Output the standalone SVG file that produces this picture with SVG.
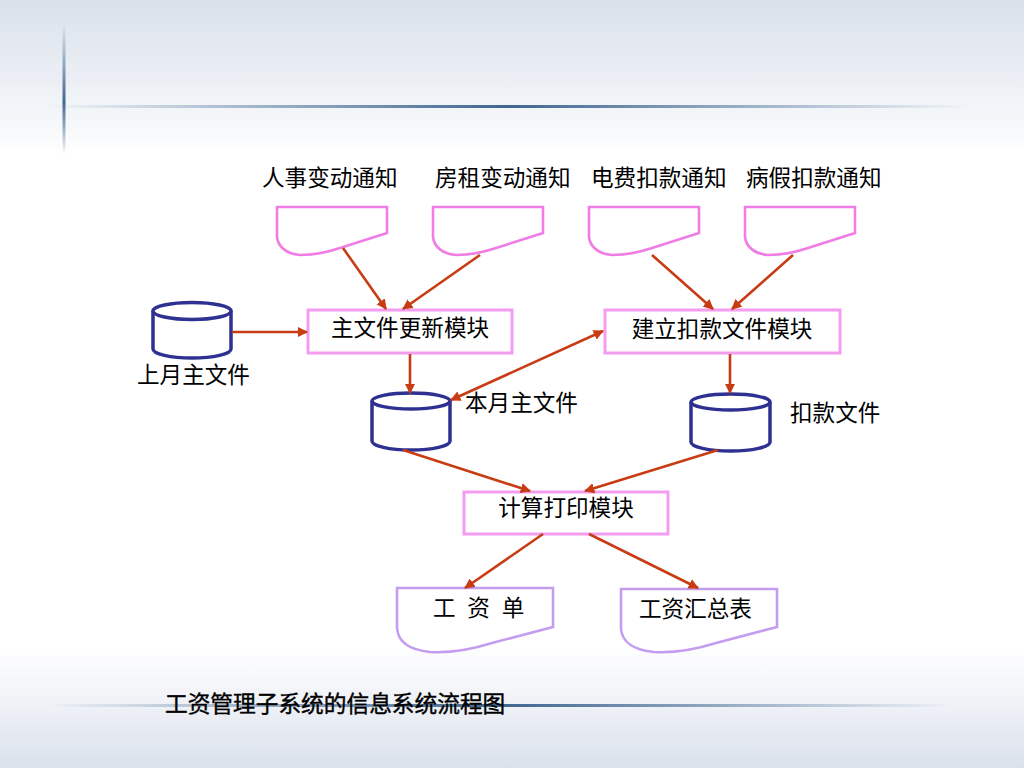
<svg xmlns="http://www.w3.org/2000/svg" width="1024" height="768" viewBox="0 0 1024 768">
<defs>
<linearGradient id="bg" x1="0" y1="0" x2="0" y2="1">
<stop offset="0" stop-color="#DAE1EC"/>
<stop offset="0.17" stop-color="#F7F9FB"/>
<stop offset="0.2" stop-color="#FFFFFF"/>
<stop offset="0.84" stop-color="#FFFFFF"/>
<stop offset="0.9" stop-color="#F3F5F9"/>
<stop offset="1" stop-color="#DAE1EC"/>
</linearGradient>
<linearGradient id="hl" x1="0" y1="0" x2="1" y2="0">
<stop offset="0" stop-color="#3F6690" stop-opacity="0"/>
<stop offset="0.5" stop-color="#3F6690" stop-opacity="1"/>
<stop offset="1" stop-color="#3F6690" stop-opacity="0"/>
</linearGradient>
<linearGradient id="vl" x1="0" y1="0" x2="0" y2="1">
<stop offset="0" stop-color="#3F6690" stop-opacity="0"/>
<stop offset="0.6" stop-color="#3F6690" stop-opacity="1"/>
<stop offset="1" stop-color="#3F6690" stop-opacity="0"/>
</linearGradient>
<marker id="ah" viewBox="0 0 10 10" refX="9" refY="5" markerWidth="4" markerHeight="4" orient="auto-start-reverse" markerUnits="strokeWidth">
<path d="M0,0 L10,5 L0,10 Z" fill="#C83C14"/>
</marker>
<style>
.t{font-family:"Liberation Sans","Noto Sans CJK SC",sans-serif;font-size:22.6px;fill:#000}
.box{fill:#fff;stroke:#F49CF0;stroke-width:3}
.doc{fill:#fff;stroke:#F07DE6;stroke-width:2.6}
.out{fill:#fff;stroke:#C49CF0;stroke-width:2.6}
.db{fill:#fff;stroke:#2E3192;stroke-width:3.5}
.ar{stroke:#C83C14;stroke-width:2.6;fill:none;marker-end:url(#ah)}
</style>
</defs>
<rect x="0" y="0" width="1024" height="768" fill="url(#bg)"/>
<rect x="48" y="105" width="920" height="3" fill="url(#hl)"/>
<rect x="62.5" y="24" width="3" height="130" fill="url(#vl)"/>
<rect x="50" y="704" width="900" height="3" fill="url(#hl)"/>

<g id="n-renshi">
<text class="t" x="262" y="186">人事变动通知</text>
<path class="doc" d="M277,207 H387 V233 L340,248 C325,253 312,255 300,255 C287,254 278,247 277,237 Z"/>
</g>
<g id="n-fangzu">
<text class="t" x="435" y="186">房租变动通知</text>
<path class="doc" d="M433,207 H543 V233 L496,248 C481,253 468,255 456,255 C443,254 434,247 433,237 Z"/>
</g>
<g id="n-dianfei">
<text class="t" x="591" y="186">电费扣款通知</text>
<path class="doc" d="M589,207 H699 V233 L652,248 C637,253 624,255 612,255 C599,254 590,247 589,237 Z"/>
</g>
<g id="n-bingjia">
<text class="t" x="746" y="186">病假扣款通知</text>
<path class="doc" d="M745,207 H855 V233 L808,248 C793,253 780,255 768,255 C755,254 746,247 745,237 Z"/>
</g>

<g id="n-zhuwenjian">
<rect class="box" x="308" y="310" width="204" height="43"/>
<text class="t" x="410" y="336" text-anchor="middle">主文件更新模块</text>
</g>
<g id="n-jianli">
<rect class="box" x="605" y="310" width="235" height="43"/>
<text class="t" x="722" y="337" text-anchor="middle">建立扣款文件模块</text>
</g>
<g id="n-jisuan">
<rect class="box" x="464" y="492" width="204" height="42"/>
<text class="t" x="566" y="516" text-anchor="middle">计算打印模块</text>
</g>

<g id="n-shangyue">
<path class="db" d="M153,311 V349 A39,9 0 0 0 231,349 V311"/>
<ellipse class="db" cx="192" cy="311" rx="39" ry="8.5"/>
<text class="t" x="137" y="383">上月主文件</text>
</g>
<g id="n-benyue">
<path class="db" d="M372,401 V441 A39,9 0 0 0 450,441 V401"/>
<ellipse class="db" cx="411" cy="401" rx="39" ry="8"/>
<text class="t" x="465" y="411">本月主文件</text>
</g>
<g id="n-koukuan">
<path class="db" d="M691,402 V442 A39.5,9 0 0 0 770,442 V402"/>
<ellipse class="db" cx="730.5" cy="402" rx="39.5" ry="8"/>
<text class="t" x="790" y="421">扣款文件</text>
</g>

<g id="n-gongzidan">
<path class="out" d="M397,588 H553 V627 L492,643 C470,650 450,653 430,652 C410,650 398,642 397,628 Z"/>
<text class="t" x="433" y="616" word-spacing="5.5">工 资 单</text>
</g>
<g id="n-huizong">
<path class="out" d="M621,589 H777 V627 L716,643 C694,650 674,653 654,652 C634,650 622,642 621,629 Z"/>
<text class="t" x="639" y="617">工资汇总表</text>
</g>

<g id="connectors">
<line class="ar" x1="343" y1="248" x2="386" y2="309"/>
<line class="ar" x1="480" y1="255" x2="403" y2="309"/>
<line class="ar" x1="652" y1="255" x2="713" y2="309"/>
<line class="ar" x1="793" y1="255" x2="732" y2="309"/>
<line class="ar" x1="232" y1="332" x2="307" y2="332"/>
<line class="ar" x1="410" y1="354" x2="410" y2="393"/>
<line class="ar" x1="451" y1="400" x2="603" y2="331" marker-start="url(#ah)"/>
<line class="ar" x1="730" y1="354" x2="730" y2="393"/>
<line class="ar" x1="403" y1="450" x2="530" y2="491"/>
<line class="ar" x1="718" y1="450" x2="585" y2="491"/>
<line class="ar" x1="543" y1="534" x2="465" y2="588"/>
<line class="ar" x1="589" y1="534" x2="698" y2="588"/>
</g>

<text x="165" y="712" style="font-family:'Liberation Sans','Noto Sans CJK SC',sans-serif;font-size:22.7px;fill:#000;stroke:#000;stroke-width:0.4">工资管理子系统的信息系统流程图</text>
</svg>
